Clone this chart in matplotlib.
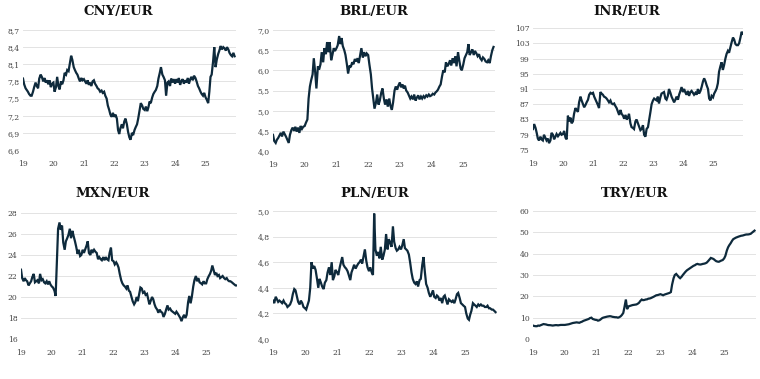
import numpy as np
import pandas as pd
import matplotlib
matplotlib.use('Agg')
import matplotlib.pyplot as plt
import matplotlib.dates as mdates
from matplotlib.ticker import FixedLocator, FuncFormatter

# semi-monthly readings, 2019-01 onwards
cny = [7.85, 7.75, 7.68, 7.65, 7.62, 7.58, 7.55, 7.55, 7.62, 7.70, 7.78, 7.72, 7.68, 7.85, 7.92, 7.88, 7.80, 7.86, 7.78, 7.82, 7.75, 7.82, 7.70, 7.76,
       7.78, 7.62, 7.70, 7.88, 7.72, 7.66, 7.80, 7.75, 7.82, 7.95, 7.92, 8.00, 7.98, 8.10, 8.25, 8.18, 8.05, 8.00, 7.95, 7.92, 7.85, 7.80, 7.86, 7.82,
       7.84, 7.80, 7.76, 7.82, 7.74, 7.78, 7.72, 7.80, 7.82, 7.76, 7.72, 7.68, 7.66, 7.62, 7.64, 7.60, 7.62, 7.55, 7.50, 7.38, 7.30, 7.22, 7.18, 7.25,
       7.18, 7.22, 7.15, 6.95, 6.88, 6.98, 7.05, 6.98, 7.10, 7.15, 7.05, 6.92, 6.82, 6.78, 6.90, 6.86, 6.95, 7.00, 7.05, 7.15, 7.30, 7.42, 7.38, 7.32,
       7.30, 7.36, 7.28, 7.35, 7.45, 7.42, 7.52, 7.58, 7.62, 7.65, 7.72, 7.85, 7.95, 8.05, 7.92, 7.88, 7.82, 7.55, 7.78, 7.80, 7.72, 7.85, 7.78, 7.84,
       7.76, 7.84, 7.78, 7.86, 7.74, 7.80, 7.84, 7.76, 7.82, 7.78, 7.86, 7.76, 7.84, 7.88, 7.82, 7.90, 7.86, 7.80, 7.72, 7.68, 7.62, 7.58, 7.55, 7.60,
       7.52, 7.48, 7.42, 7.62, 7.88, 7.92, 8.15, 8.40, 8.05, 8.18, 8.28, 8.34, 8.42, 8.36, 8.40, 8.38, 8.34, 8.40, 8.36, 8.30, 8.26, 8.24, 8.30, 8.24]

brl = [4.40, 4.25, 4.20, 4.28, 4.32, 4.38, 4.45, 4.36, 4.48, 4.42, 4.35, 4.28, 4.20, 4.40, 4.52, 4.58, 4.50, 4.60, 4.48, 4.58, 4.45, 4.62, 4.55, 4.60,
       4.62, 4.70, 4.78, 5.30, 5.60, 5.75, 5.90, 6.30, 5.95, 5.55, 6.10, 6.02, 6.15, 6.45, 6.20, 6.55, 6.40, 6.70, 6.45, 6.70, 6.25, 6.38, 6.55, 6.48,
       6.55, 6.62, 6.85, 6.65, 6.80, 6.60, 6.50, 6.38, 6.15, 5.92, 6.12, 6.08, 6.20, 6.15, 6.28, 6.22, 6.30, 6.18, 6.38, 6.55, 6.32, 6.45, 6.35, 6.42,
       6.38, 6.15, 5.90, 5.55, 5.30, 5.05, 5.20, 5.40, 5.15, 5.25, 5.45, 5.55, 5.30, 5.15, 5.28, 5.10, 5.30, 5.12, 5.02, 5.20, 5.50, 5.60, 5.52, 5.62,
       5.70, 5.58, 5.65, 5.55, 5.62, 5.50, 5.45, 5.38, 5.30, 5.35, 5.28, 5.40, 5.25, 5.32, 5.38, 5.28, 5.35, 5.30, 5.36, 5.32, 5.38, 5.35, 5.40, 5.36,
       5.38, 5.42, 5.40, 5.45, 5.48, 5.52, 5.60, 5.65, 5.85, 6.00, 5.95, 6.20, 6.10, 6.15, 6.25, 6.12, 6.30, 6.18, 6.35, 6.10, 6.45, 6.25, 6.05, 6.00,
       6.15, 6.30, 6.38, 6.45, 6.65, 6.38, 6.45, 6.52, 6.38, 6.48, 6.42, 6.35, 6.40, 6.30, 6.25, 6.32, 6.28, 6.22, 6.20, 6.25, 6.18, 6.35, 6.50, 6.58]

inr = [80.5, 81.8, 80.8, 79.5, 78.0, 77.5, 78.5, 77.8, 77.5, 79.0, 78.2, 77.5, 78.0, 76.8, 77.5, 79.5, 79.0, 77.8, 78.5, 79.2, 78.6, 79.0, 79.5, 79.0,
       79.2, 80.0, 78.2, 77.8, 84.0, 82.5, 83.5, 82.0, 82.5, 84.5, 86.0, 85.5, 85.0, 87.5, 89.0, 88.0, 87.0, 86.2, 86.8, 87.5, 88.2, 89.5, 90.0, 89.8,
       90.0, 89.0, 88.2, 87.5, 86.8, 86.0, 90.2, 89.8, 89.5, 89.0, 88.8, 88.5, 88.0, 87.5, 88.0, 87.2, 87.0, 87.2, 86.5, 86.0, 85.0, 84.2, 85.5, 84.5,
       84.0, 83.2, 84.2, 83.0, 83.5, 84.5, 82.0, 81.0, 80.8, 80.5, 82.5, 83.0, 82.0, 81.2, 80.2, 80.5, 81.5, 79.0, 78.5, 80.5, 81.0, 82.8, 85.0, 87.0,
       88.0, 88.5, 88.2, 88.0, 89.0, 87.2, 88.8, 89.8, 90.0, 90.2, 88.5, 88.2, 89.2, 91.0, 90.0, 89.0, 88.2, 87.5, 88.2, 89.0, 88.2, 89.5, 90.5, 91.5,
       90.2, 91.0, 90.0, 89.5, 90.5, 89.2, 90.2, 90.5, 90.0, 89.5, 90.0, 89.5, 91.0, 89.8, 90.5, 91.5, 93.0, 93.8, 93.0, 92.0, 91.0, 88.5, 88.0, 89.2,
       88.8, 89.8, 90.5, 91.2, 92.5, 95.5, 97.0, 98.0, 96.0, 97.2, 99.0, 100.2, 101.0, 100.5, 102.0, 103.2, 104.5, 104.0, 102.8, 102.5, 102.5, 103.0, 104.5, 106.0, 105.5]

mxn = [22.6, 21.8, 21.5, 21.8, 21.6, 21.5, 21.1, 21.3, 21.5, 21.9, 22.2, 21.4, 21.5, 21.6, 21.3, 22.2, 21.6, 21.7, 21.4, 21.3, 21.5, 21.2, 21.5, 21.2,
       21.0, 20.9, 20.6, 20.1, 23.5, 26.5, 27.1, 26.4, 26.8, 25.2, 24.5, 25.3, 25.6, 25.9, 26.5, 25.6, 26.3, 25.8, 25.3, 24.8, 24.1, 24.5, 23.9, 24.0,
       24.5, 24.2, 24.6, 24.9, 25.3, 24.2, 24.0, 24.5, 24.3, 24.5, 24.3, 24.2, 23.6, 23.8, 23.6, 23.5, 23.8, 23.5, 23.8, 23.6, 23.5, 24.2, 24.7, 23.5,
       23.4, 23.1, 23.3, 23.1, 22.8, 22.2, 21.6, 21.3, 21.1, 21.0, 20.8, 21.1, 20.6, 20.5, 20.0, 19.6, 19.3, 19.5, 20.0, 19.6, 20.3, 20.9, 20.8, 20.4,
       20.5, 20.2, 20.3, 19.8, 19.3, 19.6, 20.0, 19.8, 19.3, 19.0, 18.8, 18.5, 18.8, 18.6, 18.5, 18.1, 18.4, 18.8, 19.2, 18.8, 18.9, 18.7, 18.6, 18.5,
       18.4, 18.6, 18.4, 18.2, 18.0, 17.7, 18.1, 18.3, 18.0, 18.3, 19.5, 20.1, 19.4, 20.0, 21.0, 21.6, 22.0, 21.5, 21.8, 21.4, 21.3, 21.2, 21.5, 21.3,
       21.3, 21.7, 22.0, 22.2, 22.5, 23.0, 22.5, 22.1, 22.3, 22.0, 22.1, 21.8, 21.9, 22.0, 21.8, 21.7, 21.8, 21.6, 21.5, 21.5, 21.4, 21.3, 21.2, 21.1, 21.1]

pln = [4.30, 4.28, 4.33, 4.31, 4.29, 4.30, 4.29, 4.28, 4.30, 4.28, 4.27, 4.25, 4.26, 4.27, 4.30, 4.35, 4.39, 4.38, 4.33, 4.29, 4.27, 4.30, 4.28, 4.25,
       4.24, 4.23, 4.27, 4.30, 4.40, 4.60, 4.55, 4.57, 4.54, 4.48, 4.40, 4.47, 4.44, 4.41, 4.39, 4.44, 4.46, 4.52, 4.56, 4.50, 4.60, 4.46, 4.49, 4.54,
       4.52, 4.50, 4.56, 4.60, 4.64, 4.58, 4.56, 4.55, 4.53, 4.50, 4.46, 4.52, 4.55, 4.58, 4.55, 4.57, 4.59, 4.60, 4.62, 4.59, 4.65, 4.70, 4.61, 4.56,
       4.53, 4.56, 4.52, 4.50, 4.98, 4.70, 4.65, 4.68, 4.63, 4.72, 4.62, 4.65, 4.70, 4.82, 4.70, 4.78, 4.75, 4.72, 4.88, 4.76, 4.71, 4.69, 4.70, 4.72,
       4.70, 4.73, 4.78, 4.71, 4.70, 4.69, 4.66, 4.60, 4.52, 4.47, 4.44, 4.43, 4.45, 4.41, 4.46, 4.47, 4.58, 4.64, 4.52, 4.43, 4.40, 4.36, 4.33, 4.35,
       4.38, 4.33, 4.32, 4.34, 4.33, 4.30, 4.32, 4.28, 4.33, 4.34, 4.30, 4.27, 4.31, 4.30, 4.29, 4.30, 4.28, 4.31, 4.35, 4.36, 4.32, 4.28, 4.27, 4.26,
       4.25, 4.20, 4.16, 4.15, 4.19, 4.22, 4.28, 4.27, 4.26, 4.25, 4.27, 4.26, 4.27, 4.26, 4.26, 4.25, 4.25, 4.26, 4.24, 4.24, 4.23, 4.23, 4.22, 4.21]

try_ = [6.3, 6.1, 6.0, 6.0, 6.3, 6.2, 6.5, 6.7, 7.0, 6.9, 6.8, 6.6, 6.5, 6.5, 6.4, 6.3, 6.4, 6.5, 6.5, 6.4, 6.5, 6.6, 6.6, 6.6,
        6.6, 6.7, 6.8, 6.9, 7.1, 7.3, 7.5, 7.6, 7.7, 7.8, 7.7, 7.6, 7.9, 8.1, 8.5, 8.7, 8.9, 9.1, 9.4, 9.8, 10.0, 9.4, 9.2, 9.0,
        8.9, 8.6, 8.8, 9.2, 9.7, 10.0, 10.2, 10.4, 10.5, 10.6, 10.7, 10.6, 10.4, 10.3, 10.2, 10.2, 10.0, 10.2, 10.6, 11.2, 12.2, 15.0, 18.5, 14.0,
        15.3, 15.5, 15.7, 15.9, 16.0, 16.1, 16.2, 16.5, 17.0, 17.8, 18.5, 18.2, 18.3, 18.5, 18.6, 18.9, 19.0, 19.2, 19.5, 19.8, 20.2, 20.5, 20.6, 20.8,
        21.0, 20.8, 20.5, 20.8, 21.0, 21.2, 21.4, 21.6, 22.0, 25.5, 28.5, 30.0, 30.5, 29.8, 29.0, 28.5, 29.2, 30.0, 30.8, 31.5, 32.2, 32.6, 33.0, 33.5,
        34.0, 34.3, 34.6, 35.0, 35.2, 35.0, 34.9, 35.0, 35.2, 35.3, 35.5, 35.8, 36.5, 37.2, 38.0, 37.8, 37.5, 37.0, 36.5, 36.3, 36.2, 36.5, 36.8, 37.0,
        37.8, 39.0, 41.5, 43.0, 44.0, 44.8, 46.0, 46.8, 47.2, 47.5, 47.8, 48.0, 48.2, 48.4, 48.5, 48.7, 48.9, 49.0, 49.0, 49.1, 49.3, 49.8, 50.3, 50.8]

titles = ['CNY/EUR', 'BRL/EUR', 'INR/EUR', 'MXN/EUR', 'PLN/EUR', 'TRY/EUR']
series = [cny, brl, inr, mxn, pln, try_]
yticks = [np.arange(6.6, 8.71, 0.3), np.arange(4.0, 7.01, 0.5), np.arange(75, 108, 4),
          np.arange(16, 29, 2), np.arange(4.0, 5.01, 0.2), np.arange(0, 61, 10)]
decimals = [1, 1, 0, 0, 1, 0]

# pixel boxes: left, right, top, bottom, title x, title y
boxes = [(23, 236, 30, 150, 118, 12),
         (273, 495, 30, 151, 374, 12),
         (533, 743, 28, 150, 627, 12),
         (21, 237, 213, 339, 113, 193),
         (273, 497, 211, 339, 375, 193),
         (533, 756, 211, 339, 635, 193)]

W, H = 760, 379
line_color = '#0e2a3c'
fig = plt.figure(figsize=(7.6, 3.79), dpi=100)

for title, vals, yt, dec, (l, r, t, b, tx, ty) in zip(titles, series, yticks, decimals, boxes):
    ax = fig.add_axes([l / W, 1 - b / H, (r - l) / W, (b - t) / H])
    dates = pd.date_range('2019-01-01', periods=len(vals), freq='SMS')
    ax.plot(dates, vals, color=line_color, lw=1.6, solid_joinstyle='miter')
    ax.set_xlim(pd.Timestamp('2019-01-01'), pd.Timestamp('2026-01-01'))
    ax.set_ylim(yt[0], yt[-1])
    ax.yaxis.set_major_locator(FixedLocator(yt))
    ax.yaxis.set_major_formatter(FuncFormatter(lambda v, p, d=dec: f'{v:.{d}f}'.replace('.', ',')))
    ax.xaxis.set_major_locator(FixedLocator([mdates.date2num(pd.Timestamp(f'{y}-01-01')) for y in range(2019, 2026)]))
    ax.xaxis.set_major_formatter(mdates.DateFormatter('%y'))
    ax.grid(axis='y', color='#e3e3e3', lw=0.7)
    ax.set_axisbelow(True)
    for s in ax.spines.values():
        s.set_visible(False)
    ax.tick_params(length=0, labelsize=5.5, labelcolor='#444444')
    ax.tick_params(axis='y', pad=2.5)
    ax.tick_params(axis='x', pad=7)
    for lab in ax.get_xticklabels() + ax.get_yticklabels():
        lab.set_family('DejaVu Serif')
    fig.text(tx / W, 1 - ty / H, title, ha='center', va='center',
             family='DejaVu Serif', fontweight='bold', fontsize=9.5, color='#111111')

fig.savefig('out.png', dpi=100)
